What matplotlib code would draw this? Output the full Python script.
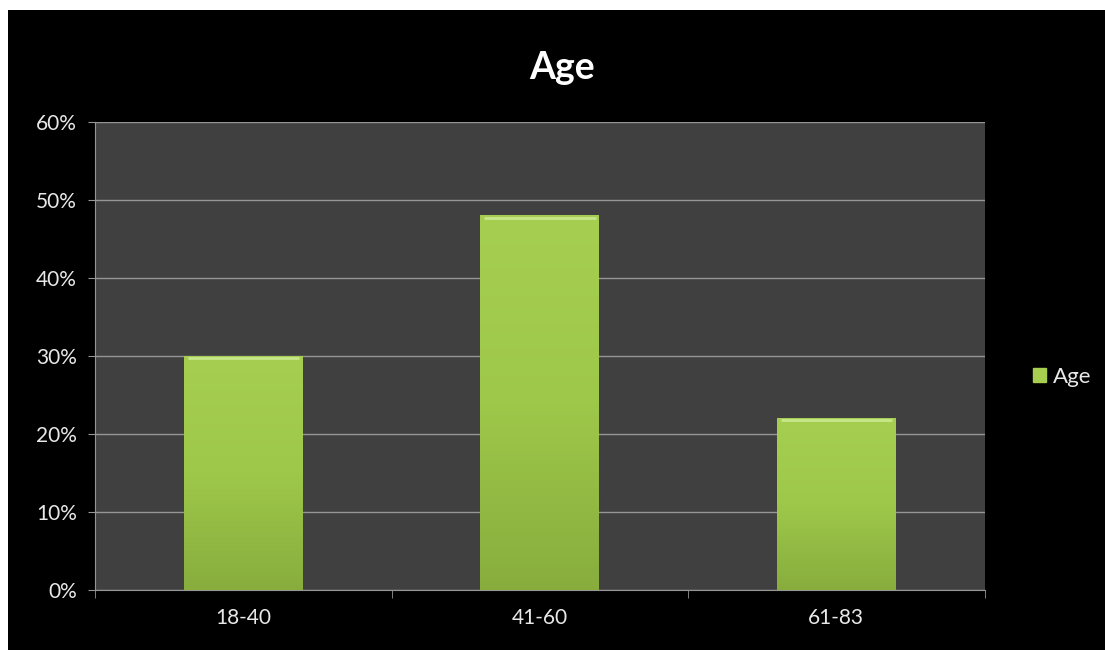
import matplotlib.pyplot as plt
import matplotlib.patches as mpatches
import numpy as np
from matplotlib.colors import LinearSegmentedColormap
from matplotlib.ticker import PercentFormatter

# age groups and share of respondents
categorias = ["18-40", "41-60", "61-83"]
valores = [30, 48, 22]

plt.rcParams['font.family'] = ['Lato', 'DejaVu Sans']

fig = plt.figure(figsize=(11.05, 6.5), dpi=100, facecolor="white")
# black chart background, leaving a thin white margin top/left
fig.patches.append(mpatches.Rectangle((8 / 1105, 0), 1, 1 - 10 / 650,
                                      transform=fig.transFigure,
                                      facecolor="black", edgecolor="none", zorder=-10))

ax = fig.add_axes([0.086, 0.0923, 0.805, 0.72])
ax.set_facecolor("#404040")

x = np.arange(len(categorias))
barras = ax.bar(x, valores, width=0.4, color="#9cc44a", zorder=3, label="Age")

# vertical gradient over each bar (lighter on top)
verde = LinearSegmentedColormap.from_list("verde", ["#88ad3d", "#9ec84a", "#a6cf52"])
grad = np.linspace(0, 1, 256).reshape(-1, 1)
for b in barras:
    x0, w, h = b.get_x(), b.get_width(), b.get_height()
    ax.imshow(grad, extent=(x0, x0 + w, 0, h), origin="lower", cmap=verde,
              aspect="auto", zorder=4)
    ax.plot([x0 + w * 0.03, x0 + w * 0.97], [h - 0.25, h - 0.25],
            color="#c8e68a", lw=2, zorder=5, solid_capstyle="butt")

ax.set_xlim(-0.5, len(categorias) - 0.5)
ax.set_ylim(0, 60)
ax.set_yticks(range(0, 61, 10))
ax.yaxis.set_major_formatter(PercentFormatter(decimals=0))
ax.set_xticks(x)
ax.set_xticklabels(categorias)
ax.set_xticks(np.arange(-0.5, len(categorias), 1), minor=True)

ax.grid(axis="y", color="#959595", lw=1, zorder=1)
ax.set_axisbelow(True)

for s in ["top", "right"]:
    ax.spines[s].set_visible(False)
ax.spines["left"].set_color("#959595")
ax.spines["bottom"].set_color("#959595")

ax.tick_params(axis="x", which="major", length=0, colors="#e8e8e8",
               labelsize=15, pad=13)
ax.tick_params(axis="x", which="minor", length=6, color="#959595", direction="out")
ax.tick_params(axis="y", length=5, color="#959595", colors="#e8e8e8",
               labelsize=15, pad=8)

fig.text(0.509, 0.895, "Age", color="white", fontsize=27, fontweight="bold",
         ha="center", va="center")

leg = fig.legend(handles=[mpatches.Patch(color="#a6cf50", label="Age")],
                 loc="center left", bbox_to_anchor=(0.917, 0.42), frameon=False,
                 labelcolor="#e8e8e8", fontsize=16, handlelength=0.55,
                 handleheight=0.55, handletextpad=0.35)

fig.savefig("out.png", dpi=100, facecolor=fig.get_facecolor())
